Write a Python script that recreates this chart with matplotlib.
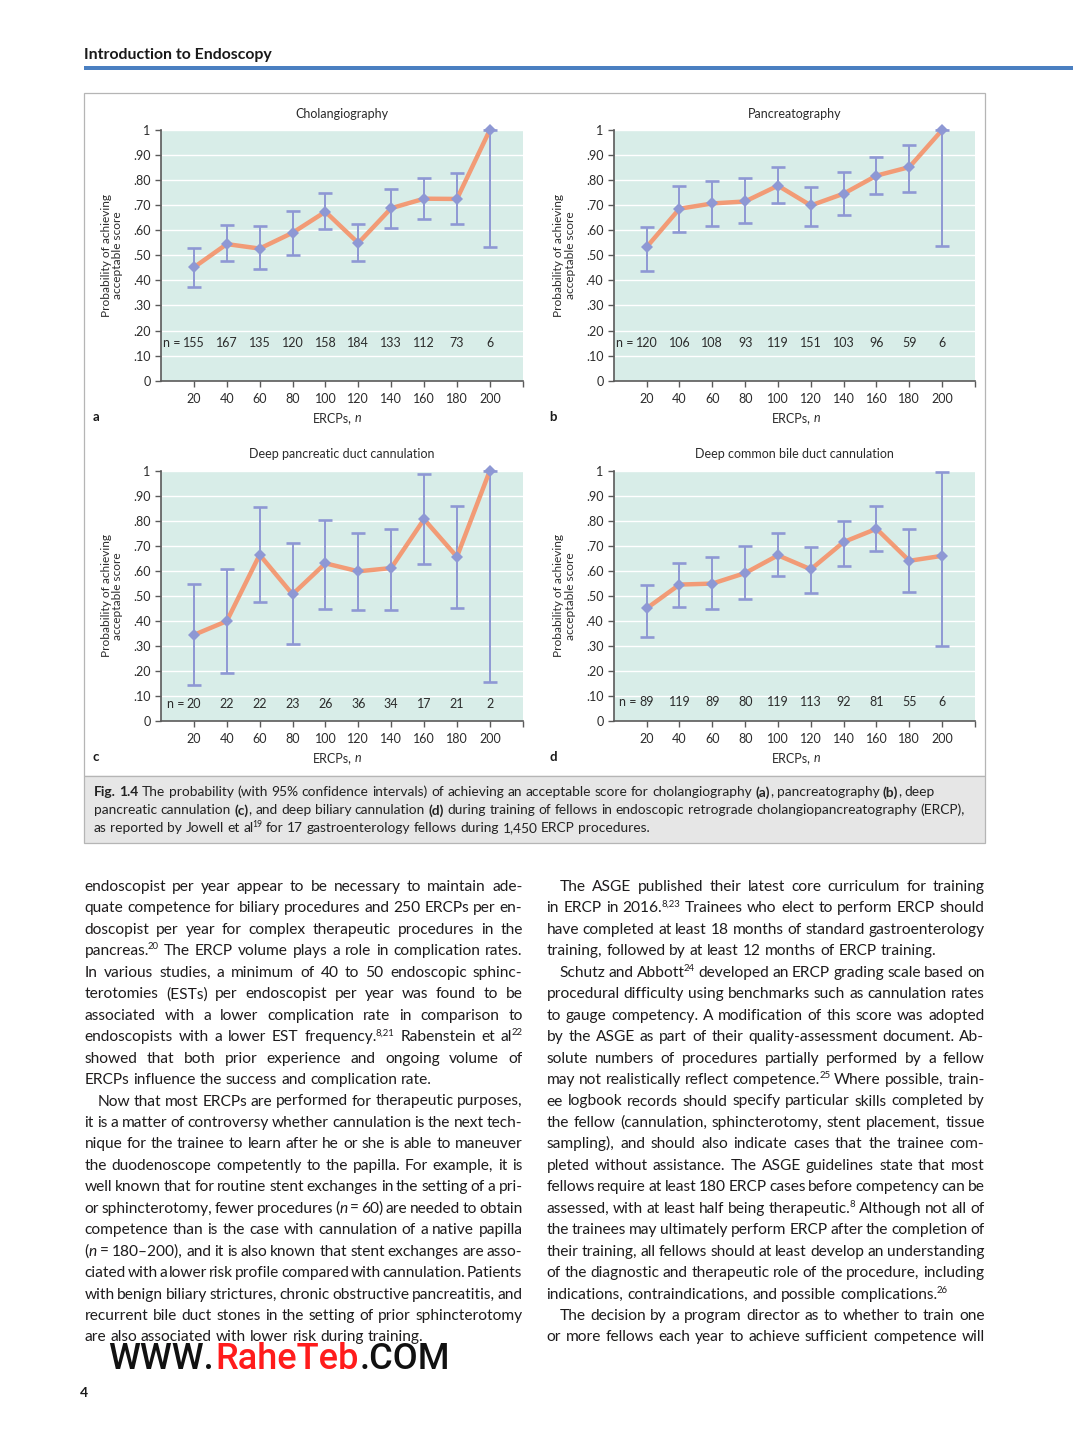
import re
import numpy as np
import matplotlib
matplotlib.use("Agg")
import matplotlib.pyplot as plt
from matplotlib.patches import Rectangle

W, H, DPI = 1073, 1446, 100

# ---------------- data ----------------
ercp_n = [20, 40, 60, 80, 100, 120, 140, 160, 180, 200]
y_tick_values = [0.0, 0.1, 0.2, 0.3, 0.4, 0.5, 0.6, 0.7, 0.8, 0.9, 1.0]
y_tick_labels = ["0", ".10", ".20", ".30", ".40", ".50", ".60", ".70", ".80", ".90", "1"]

chol_p = [0.452, 0.545, 0.527, 0.590, 0.674, 0.549, 0.688, 0.726, 0.725, 1.0]
chol_lo = [0.372, 0.476, 0.447, 0.501, 0.604, 0.476, 0.610, 0.646, 0.624, 0.533]
chol_hi = [0.528, 0.621, 0.618, 0.676, 0.750, 0.626, 0.763, 0.807, 0.828, 1.0]
chol_n = [155, 167, 135, 120, 158, 184, 133, 112, 73, 6]

panc_p = [0.533, 0.686, 0.707, 0.715, 0.778, 0.699, 0.746, 0.818, 0.852, 1.0]
panc_lo = [0.439, 0.594, 0.616, 0.628, 0.707, 0.616, 0.661, 0.746, 0.751, 0.537]
panc_hi = [0.614, 0.778, 0.798, 0.810, 0.852, 0.771, 0.832, 0.894, 0.941, 1.0]
panc_n = [120, 106, 108, 93, 119, 151, 103, 96, 59, 6]

pd_p = [0.344, 0.399, 0.664, 0.506, 0.630, 0.598, 0.611, 0.806, 0.656, 1.0]
pd_lo = [0.142, 0.193, 0.475, 0.309, 0.449, 0.442, 0.443, 0.627, 0.453, 0.157]
pd_hi = [0.547, 0.609, 0.855, 0.710, 0.804, 0.752, 0.768, 0.987, 0.859, 1.0]
pd_n = [20, 22, 22, 23, 26, 36, 34, 17, 21, 2]

cbd_p = [0.450, 0.545, 0.549, 0.591, 0.662, 0.606, 0.715, 0.768, 0.640, 0.660]
cbd_lo = [0.337, 0.454, 0.449, 0.487, 0.579, 0.511, 0.621, 0.678, 0.517, 0.298]
cbd_hi = [0.545, 0.631, 0.654, 0.700, 0.750, 0.694, 0.798, 0.859, 0.768, 0.995]
cbd_n = [89, 119, 89, 80, 119, 113, 92, 81, 55, 6]

panel_titles = ["Cholangiography", "Pancreatography",
                "Deep pancreatic duct cannulation", "Deep common bile duct cannulation"]
panel_letters = ["a", "b", "c", "d"]
y_label = "Probability of achieving\nacceptable score"
x_label = "ERCPs, *n*"

header_text = "Introduction to Endoscopy"
page_number = "4"

caption_lines = [
    "#Fig. 1.4# The probability (with 95% confidence intervals) of achieving an acceptable score for cholangiography #(a)#, pancreatography #(b)#, deep",
    "pancreatic cannulation #(c)#, and deep biliary cannulation #(d)# during training of fellows in endoscopic retrograde cholangiopancreatography (ERCP),",
    "as reported by Jowell et al^{19} for 17 gastroenterology fellows during 1,450 ERCP procedures.",
]

# ">" = paragraph indent, "|" at end = last line of paragraph (not justified)
body_left = [
    "endoscopist per year appear to be necessary to maintain ade-",
    "quate competence for biliary procedures and 250 ERCPs per en-",
    "doscopist per year for complex therapeutic procedures in the",
    "pancreas.^{20} The ERCP volume plays a role in complication rates.",
    "In various studies, a minimum of 40 to 50 endoscopic sphinc-",
    "terotomies (ESTs) per endoscopist per year was found to be",
    "associated with a lower complication rate in comparison to",
    "endoscopists with a lower EST frequency.^{8,21} Rabenstein et al^{22}",
    "showed that both prior experience and ongoing volume of",
    "ERCPs influence the success and complication rate.|",
    ">Now that most ERCPs are performed for therapeutic purposes,",
    "it is a matter of controversy whether cannulation is the next tech-",
    "nique for the trainee to learn after he or she is able to maneuver",
    "the duodenoscope competently to the papilla. For example, it is",
    "well known that for routine stent exchanges in the setting of a pri-",
    "or sphincterotomy, fewer procedures (*n* = 60) are needed to obtain",
    "competence than is the case with cannulation of a native papilla",
    "(*n* = 180–200), and it is also known that stent exchanges are asso-",
    "ciated with a lower risk profile compared with cannulation. Patients",
    "with benign biliary strictures, chronic obstructive pancreatitis, and",
    "recurrent bile duct stones in the setting of prior sphincterotomy",
    "are also associated with lower risk during training.|",
]
body_right = [
    ">The ASGE published their latest core curriculum for training",
    "in ERCP in 2016.^{8,23} Trainees who elect to perform ERCP should",
    "have completed at least 18 months of standard gastroenterology",
    "training, followed by at least 12 months of ERCP training.|",
    ">Schutz and Abbott^{24} developed an ERCP grading scale based on",
    "procedural difficulty using benchmarks such as cannulation rates",
    "to gauge competency. A modification of this score was adopted",
    "by the ASGE as part of their quality-assessment document. Ab-",
    "solute numbers of procedures partially performed by a fellow",
    "may not realistically reflect competence.^{25} Where possible, train-",
    "ee logbook records should specify particular skills completed by",
    "the fellow (cannulation, sphincterotomy, stent placement, tissue",
    "sampling), and should also indicate cases that the trainee com-",
    "pleted without assistance. The ASGE guidelines state that most",
    "fellows require at least 180 ERCP cases before competency can be",
    "assessed, with at least half being therapeutic.^{8} Although not all of",
    "the trainees may ultimately perform ERCP after the completion of",
    "their training, all fellows should at least develop an understanding",
    "of the diagnostic and therapeutic role of the procedure, including",
    "indications, contraindications, and possible complications.^{26}|",
    ">The decision by a program director as to whether to train one",
    "or more fellows each year to achieve sufficient competence will",
]

# ---------------- style ----------------
FONT = "Lato"
MINT = "#d8ede8"
ORANGE = "#f29b76"
LAV = "#8e98d4"
AXC = "#5a5a5a"
TXT = "#2b2b2b"
BODY = "#1e1c1d"
SUP_SHIFT = -0.8

plt.rcParams["font.family"] = [FONT, "DejaVu Sans"]

fig = plt.figure(figsize=(W / DPI, H / DPI), dpi=DPI)
fig.patch.set_facecolor("white")
page = fig.add_axes([0, 0, 1, 1], zorder=0)
page.set_xlim(0, W)
page.set_ylim(H, 0)
page.axis("off")
renderer = fig.canvas.get_renderer()

_cache = {}


def tw(s, size, weight="normal", style="normal", family=FONT):
    key = (s, round(size, 4), weight, style, family)
    if key not in _cache:
        t = page.text(0, 0, s, fontsize=size, fontweight=weight, fontstyle=style, family=family)
        _cache[key] = t.get_window_extent(renderer).width
        t.remove()
    return _cache[key]


def space_w(size, family=FONT):
    return tw("a a", size, family=family) - tw("aa", size, family=family)


def piece_props(st, size):
    if st == "s":
        return dict(fontsize=size * 0.62, fontweight="normal", fontstyle="normal"), -size * 0.38 * DPI / 72
    if st == "i":
        return dict(fontsize=size, fontweight="normal", fontstyle="italic"), 0
    if st == "b":
        return dict(fontsize=size, fontweight="bold", fontstyle="normal"), 0
    return dict(fontsize=size, fontweight="normal", fontstyle="normal"), 0


def pw(p, st, size, family=FONT):
    props, _ = piece_props(st, size)
    w = tw(p, props["fontsize"], props["fontweight"], props["fontstyle"], family)
    if st == "s":
        w += SUP_SHIFT
    return w


TOK = re.compile(r"\^\{([^}]*)\}|\*([^*]*)\*|#([^#]*)#")


def parse(s):
    segs, pos = [], 0
    for m in TOK.finditer(s):
        if m.start() > pos:
            segs.append((s[pos:m.start()], "n"))
        if m.group(1) is not None:
            segs.append((m.group(1), "s"))
        elif m.group(2) is not None:
            segs.append((m.group(2), "i"))
        else:
            segs.append((m.group(3), "b"))
        pos = m.end()
    if pos < len(s):
        segs.append((s[pos:], "n"))
    return segs


def words_of(segs):
    words = [[]]
    for text, st in segs:
        parts = text.split(" ")
        for i, p in enumerate(parts):
            if i > 0 and words[-1]:
                words.append([])
            if p:
                words[-1].append((p, st))
    return [w for w in words if w]


def natural_width(s, size, family=FONT):
    words = words_of(parse(s))
    ww = sum(sum(pw(p, st, size, family) for p, st in w) for w in words)
    return ww + space_w(size, family) * (len(words) - 1)


def draw_rich(s, x, y, size, family=FONT, width=None, align="left", color=BODY):
    words = words_of(parse(s))
    ww = [sum(pw(p, st, size, family) for p, st in w) for w in words]
    sp = space_w(size, family)
    if width is not None and len(words) > 1:
        gap = (width - sum(ww)) / (len(words) - 1)
    else:
        gap = sp
    total = sum(ww) + gap * (len(words) - 1)
    if align == "center":
        x = x - total / 2
    elif align == "right":
        x = x - total
    for w, wid in zip(words, ww):
        xx = x
        for p, st in w:
            props, dy = piece_props(st, size)
            if st == "s":
                xx += SUP_SHIFT
            page.text(xx, y + dy, p, ha="left", va="baseline", family=family, color=color, **props)
            xx += pw(p, st, size, family) - (SUP_SHIFT if st == "s" else 0)
        x += wid + gap
    return total


# ---------------- page furniture ----------------
hdr_size = 11.0 * 188.0 / tw(header_text, 11.0, "bold")
page.text(84, 59, header_text, fontsize=hdr_size, fontweight="bold", color="#1a1a1a",
          ha="left", va="baseline")
page.add_patch(Rectangle((84, 65.5), W - 84, 4, color="#4a7fc1", lw=0))

# figure frame and caption box
page.add_patch(Rectangle((84, 93), 900.5, 683, facecolor="white", edgecolor="#b5b5b5", lw=0.9))
page.add_patch(Rectangle((84, 776), 900.5, 67, facecolor="#e6e6e6", edgecolor="#b5b5b5", lw=0.9))

cap_size = 10.0 * 874.0 / natural_width(caption_lines[1], 10.0)
for i, line in enumerate(caption_lines):
    draw_rich(line, 94, 796.5 + 18 * i, cap_size, color="#222222")

# body text
COLW = 438.0
IND = 13.0
ratios = []
for col in (body_left, body_right):
    for s in col:
        if s.endswith("|"):
            continue
        ind = IND if s.startswith(">") else 0
        ratios.append((COLW - ind) / natural_width(s.lstrip(">"), 10.0))
body_size = 10.0 * float(np.median(ratios)) * 0.995

for x0, col in ((84.5, body_left), (546.5, body_right)):
    for i, s in enumerate(col):
        y = 891.0 + 21.45 * i
        ind = IND if s.startswith(">") else 0
        last = s.endswith("|")
        txt = s.lstrip(">").rstrip("|")
        draw_rich(txt, x0 + ind, y, body_size, width=None if last else COLW - ind)

# watermark
wm_parts = [("WWW.", "#111111"), ("RaheTeb", "#ff1c1c"), (".COM", "#111111")]
wm_full = "".join(p for p, _ in wm_parts)
wm_size = 20.0 * 340.0 / tw(wm_full, 20.0, "medium", family="Roboto")
xw = 108
for p, c in wm_parts:
    page.text(xw, 1369, p, fontsize=wm_size, fontweight="medium", family="Roboto", color=c,
              ha="left", va="baseline")
    xw += tw(p, wm_size, "medium", family="Roboto") + 1.5

page.text(80, 1397, page_number, fontsize=10, fontweight="bold", color="#1a1a1a", ha="left", va="baseline")

# ---------------- charts ----------------
series = [(chol_p, chol_lo, chol_hi, chol_n),
          (panc_p, panc_lo, panc_hi, panc_n),
          (pd_p, pd_lo, pd_hi, pd_n),
          (cbd_p, cbd_lo, cbd_hi, cbd_n)]
boxes = [(161, 130, 522.7, 380.7), (613.8, 130, 975, 380.7),
         (161, 470.7, 522.7, 721), (613.8, 470.7, 975, 721)]
n_label_y = [0.149, 0.149, 0.067, 0.075]
xlab_cx = [337, 796, 337, 796]
letter_x = [96, 553, 96, 553]
TICK_FS = 9.0

for k in range(4):
    l, t, r, b = boxes[k]
    ax = fig.add_axes([l / W, 1 - b / H, (r - l) / W, (b - t) / H], zorder=2)
    ax.set_facecolor(MINT)
    ax.set_xlim(0, 220)
    ax.set_ylim(0, 1)
    ax.set_yticks(y_tick_values)
    ax.set_yticklabels(y_tick_labels)
    ax.set_xticks(ercp_n)
    ax.set_xticklabels([str(v) for v in ercp_n])
    ax.set_xticks([220], minor=True)
    ax.grid(axis="y", color="white", lw=1.0)
    ax.set_axisbelow(True)
    for s in ("top", "right"):
        ax.spines[s].set_visible(False)
    for s in ("left", "bottom"):
        ax.spines[s].set_color(AXC)
        ax.spines[s].set_linewidth(1.2)
    ax.tick_params(axis="both", which="both", direction="out", length=4.5, width=1.0,
                   color=AXC, labelcolor=TXT, labelsize=TICK_FS)
    ax.tick_params(axis="y", pad=3)
    ax.tick_params(axis="x", pad=4)

    p, lo, hi, nn = series[k]
    p = np.array(p)
    lo = np.array(lo)
    hi = np.array(hi)
    eb = ax.errorbar(ercp_n, p, yerr=[p - lo, hi - p], fmt="none", ecolor=LAV,
                     elinewidth=1.4, capsize=5.2, capthick=1.9, zorder=3)
    for art in list(eb[1]) + list(eb[2]):
        art.set_clip_on(False)
    ax.plot(ercp_n, p, color=ORANGE, lw=3.2, zorder=4, solid_joinstyle="round",
            solid_capstyle="round", clip_on=False)
    ax.plot(ercp_n, p, ls="none", marker="D", ms=6.6, color=LAV, mew=0, zorder=5, clip_on=False)

    ny = n_label_y[k]
    for xv, v in zip(ercp_n, nn):
        ax.text(xv, ny, str(v), ha="center", va="center", fontsize=TICK_FS, color=TXT)
    wnum = tw(str(nn[0]), TICK_FS)
    ax.annotate("n =", xy=(ercp_n[0], ny), xytext=(-(wnum / 2 + 2.6) * 72 / DPI, 0),
                textcoords="offset points", ha="right", va="center", fontsize=TICK_FS, color=TXT)

    # title, axis labels, panel letter
    cx = (l + r) / 2
    page.text(cx, t - 12.5, panel_titles[k], ha="center", va="baseline", fontsize=TICK_FS, color=TXT)
    page.text(l - 49, (t + b) / 2, y_label, rotation=90, ha="center", va="center",
              multialignment="center", linespacing=1.1, fontsize=8.6, color=TXT)
    draw_rich(x_label, xlab_cx[k], b + 41, TICK_FS, align="center", color=TXT)
    page.text(letter_x[k], b + 40, panel_letters[k], ha="center", va="baseline",
              fontsize=9.5, fontweight="bold", color="#1a1a1a")

fig.savefig("out.png", dpi=DPI, facecolor="white")
